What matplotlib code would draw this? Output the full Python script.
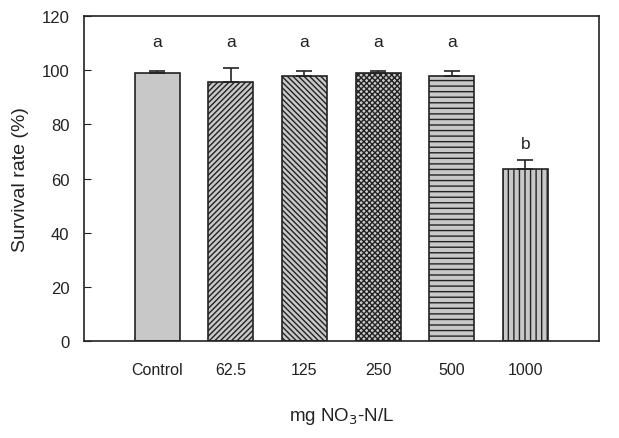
import matplotlib
import matplotlib.pyplot as plt
import numpy as np

matplotlib.use("agg")
plt.rcParams["font.family"] = ["Liberation Sans", "DejaVu Sans"]
plt.rcParams["hatch.linewidth"] = 1.0

# values
groups = ["Control", "62.5", "125", "250", "500", "1000"]
survival = [98.8, 95.5, 97.7, 98.8, 97.7, 63.4]
errors = [1.0, 5.2, 1.9, 1.0, 1.9, 3.3]
letters = ["a", "a", "a", "a", "a", "b"]
letter_y = [110.5, 110.5, 110.5, 110.5, 110.5, 73.0]
hatches = [None, "//////", "\\\\\\\\\\\\", "xxxxxx", "---", "|||"]

fig = plt.figure(figsize=(6.19, 4.39), dpi=100)
ax = fig.add_axes([83.5 / 619, 1 - 342 / 439, (599 - 83.5) / 619, (342 - 17) / 439])

x = np.arange(len(groups))
for i in range(len(groups)):
    ax.bar(x[i], survival[i], width=0.61, color="#c8c8c8", edgecolor="#222222",
           linewidth=1.2, hatch=hatches[i], zorder=2)
    ax.errorbar(x[i], survival[i], yerr=[[0], [errors[i]]], fmt="none",
                ecolor="#222222", elinewidth=1.2, capsize=5.5, capthick=1.2, zorder=3)
    ax.text(x[i], letter_y[i], letters[i], ha="center", va="center", fontsize=12.5,
            color="#222222")

ax.set_xlim(-1, 6)
ax.set_ylim(0, 120)
ax.set_yticks(np.arange(0, 121, 20))
ax.set_xticks(x)
ax.set_xticklabels(groups)
ax.tick_params(axis="x", length=0, pad=15, labelsize=11.5, colors="#222222")
ax.tick_params(axis="y", direction="in", length=5, labelsize=12, colors="#222222", pad=10)
for s in ax.spines.values():
    s.set_linewidth(1.2)
    s.set_color("#222222")

ax.set_ylabel("Survival rate (%)", fontsize=14, color="#222222", labelpad=9)
ax.set_xlabel("mg NO$_3$-N/L", fontsize=13.5, color="#222222", labelpad=20)

fig.savefig("out.png", dpi=100)
